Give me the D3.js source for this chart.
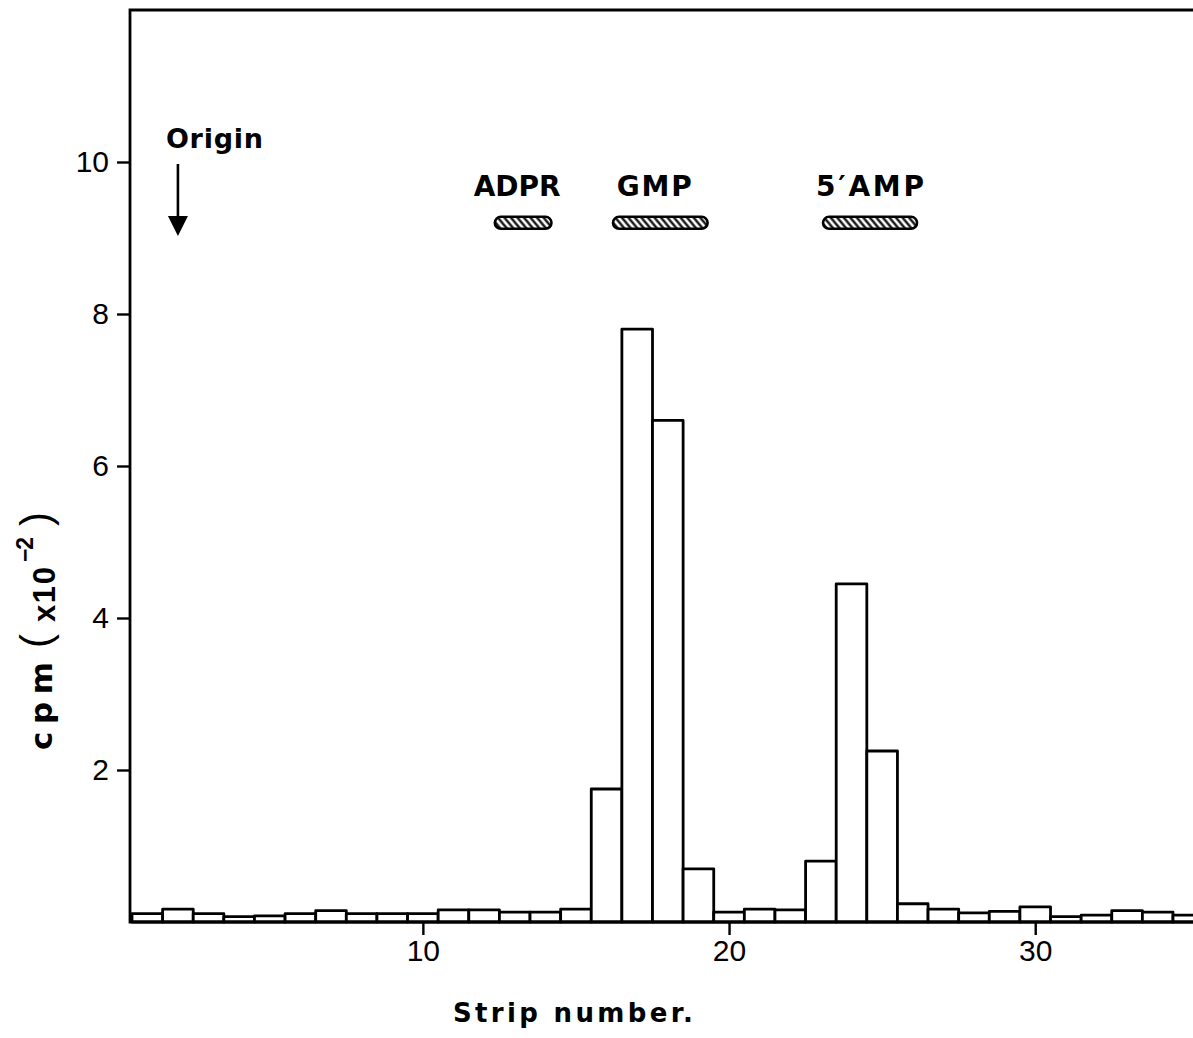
<!DOCTYPE html>
<html>
<head>
<meta charset="utf-8">
<script src="https://cdn.jsdelivr.net/npm/d3@7"></script>
<style>
  html, body { margin: 0; padding: 0; background: #fff; }
  svg { display: block; }
  text { font-family: "Liberation Sans", Arial, Helvetica, sans-serif; fill: #000; }
  .heavy { font-family: "DejaVu Sans", "Liberation Sans", sans-serif; font-weight: bold; }
</style>
</head>
<body>
<svg id="chart" width="1193" height="1038"></svg>
<script>
// Radioactivity recovered from each strip of the chromatogram
const strips = d3.range(1, 36);
const cpm = [0.11, 0.17, 0.11, 0.07, 0.08, 0.11, 0.15, 0.11, 0.11, 0.11,
             0.16, 0.16, 0.13, 0.13, 0.17, 1.75, 7.80, 6.60, 0.70, 0.13,
             0.17, 0.16, 0.80, 4.45, 2.25, 0.24, 0.17, 0.12, 0.14, 0.20,
             0.07, 0.09, 0.15, 0.13, 0.09];

// Migration of the reference standards (strip range covered)
const standards = ["ADPR", "GMP", "5′AMP"];
const standardFrom = [12.35, 16.21, 23.07];
const standardTo = [14.2, 19.3, 26.14];
const originStrip = 2;

const xTicks = [10, 20, 30];
const yTicks = [2, 4, 6, 8, 10];

const svg = d3.select("#chart");
const plotLeft = 130, plotTop = 10, plotRight = 1193, plotBottom = 922;

const x = d3.scaleLinear().domain([0.5, 34.5]).range([132, 1173]);
const y = d3.scaleLinear().domain([0, 12]).range([plotBottom, plotTop]);

// hatch used for the standard spots
const defs = svg.append("defs");
const pat = defs.append("pattern")
  .attr("id", "hatch")
  .attr("patternUnits", "userSpaceOnUse")
  .attr("width", 5).attr("height", 5)
  .attr("patternTransform", "rotate(-40)");
pat.append("rect").attr("width", 5).attr("height", 5).attr("fill", "#fff");
pat.append("line").attr("x1", 1.5).attr("y1", 0).attr("x2", 1.5).attr("y2", 5)
  .attr("stroke", "#000").attr("stroke-width", 2.2);

// bars
svg.append("g").selectAll("rect")
  .data(strips)
  .join("rect")
  .attr("x", (d) => x(d - 0.5))
  .attr("width", (d) => x(d + 0.5) - x(d - 0.5))
  .attr("y", (d, i) => y(cpm[i]))
  .attr("height", (d, i) => y(0) - y(cpm[i]))
  .attr("fill", "#fff")
  .attr("stroke", "#000")
  .attr("stroke-width", 2.8)
  .attr("stroke-linejoin", "round");

// frame: top and left edges, baseline
svg.append("path")
  .attr("d", `M${plotRight},${plotTop}H${plotLeft}V${plotBottom}H${plotRight}`)
  .attr("fill", "none").attr("stroke", "#000").attr("stroke-width", 2.8);

// y axis
const yAxis = d3.axisLeft(y).tickValues(yTicks).tickSize(13).tickPadding(8)
  .tickFormat(d3.format("d"));
const gy = svg.append("g").attr("transform", `translate(${plotLeft},0)`).call(yAxis);
gy.select(".domain").remove();
gy.selectAll("line").attr("stroke-width", 2.4);
gy.selectAll("text").style("font-size", "30px").style("font-family", '"Liberation Sans", Arial, sans-serif');

// x axis
const xAxis = d3.axisBottom(x).tickValues(xTicks).tickSize(13).tickPadding(5)
  .tickFormat(d3.format("d"));
const gx = svg.append("g").attr("transform", `translate(0,${plotBottom})`).call(xAxis);
gx.select(".domain").remove();
gx.selectAll("line").attr("stroke-width", 2.4);
gx.selectAll("text").style("font-size", "30px").style("font-family", '"Liberation Sans", Arial, sans-serif');

// standard spots with their names
const spotY = y(9.2);
const spots = svg.append("g");
standards.forEach((name, i) => {
  const x0 = x(standardFrom[i]), x1 = x(standardTo[i]);
  spots.append("rect")
    .attr("x", x0).attr("y", spotY - 6)
    .attr("width", x1 - x0).attr("height", 12)
    .attr("rx", 6)
    .attr("fill", "url(#hatch)")
    .attr("stroke", "#000").attr("stroke-width", 2.6);
  const len = [87, 75, 108][i];
  spots.append("text")
    .attr("class", "heavy")
    .attr("x", (x0 + x1) / 2 - len / 2 - (i === 2 ? 0 : 6))
    .attr("y", spotY - 27)
    .attr("textLength", len)
    .attr("lengthAdjust", "spacing")
    .style("font-size", "28px")
    .text(name);
});

// origin marker
const ox = x(originStrip);
svg.append("text")
  .attr("class", "heavy")
  .attr("x", ox - 12).attr("y", 148)
  .attr("textLength", 97).attr("lengthAdjust", "spacing")
  .style("font-size", "27px")
  .text("Origin");
svg.append("line")
  .attr("x1", ox).attr("x2", ox).attr("y1", 164).attr("y2", 218)
  .attr("stroke", "#000").attr("stroke-width", 2.6);
svg.append("path")
  .attr("d", `M${ox - 10},216L${ox + 10},216L${ox},236Z`)
  .attr("fill", "#000");

// axis titles
svg.append("text")
  .attr("class", "heavy")
  .attr("x", 453).attr("y", 1022)
  .attr("textLength", 240).attr("lengthAdjust", "spacing")
  .style("font-size", "26px")
  .text("Strip number.");

const yl = svg.append("g").attr("transform", "translate(52,750) rotate(-90)");
yl.append("text").attr("class", "heavy").attr("x", 0).attr("y", 0)
  .attr("textLength", 88).attr("lengthAdjust", "spacing")
  .style("font-size", "31px").text("cpm");
yl.append("text").attr("x", 102).attr("y", -2)
  .style("font-size", "42px").style("font-weight", "300").text("(");
yl.append("text").attr("x", 128).attr("y", 3)
  .attr("textLength", 55).attr("lengthAdjust", "spacing")
  .style("font-size", "31px").style("font-weight", "bold").text("x10");
yl.append("text").attr("x", 188).attr("y", -19)
  .attr("textLength", 25).attr("lengthAdjust", "spacing")
  .style("font-size", "23px").style("font-weight", "bold").text("−2");
yl.append("text").attr("x", 224).attr("y", -2)
  .style("font-size", "42px").style("font-weight", "300").text(")");
</script>
</body>
</html>
